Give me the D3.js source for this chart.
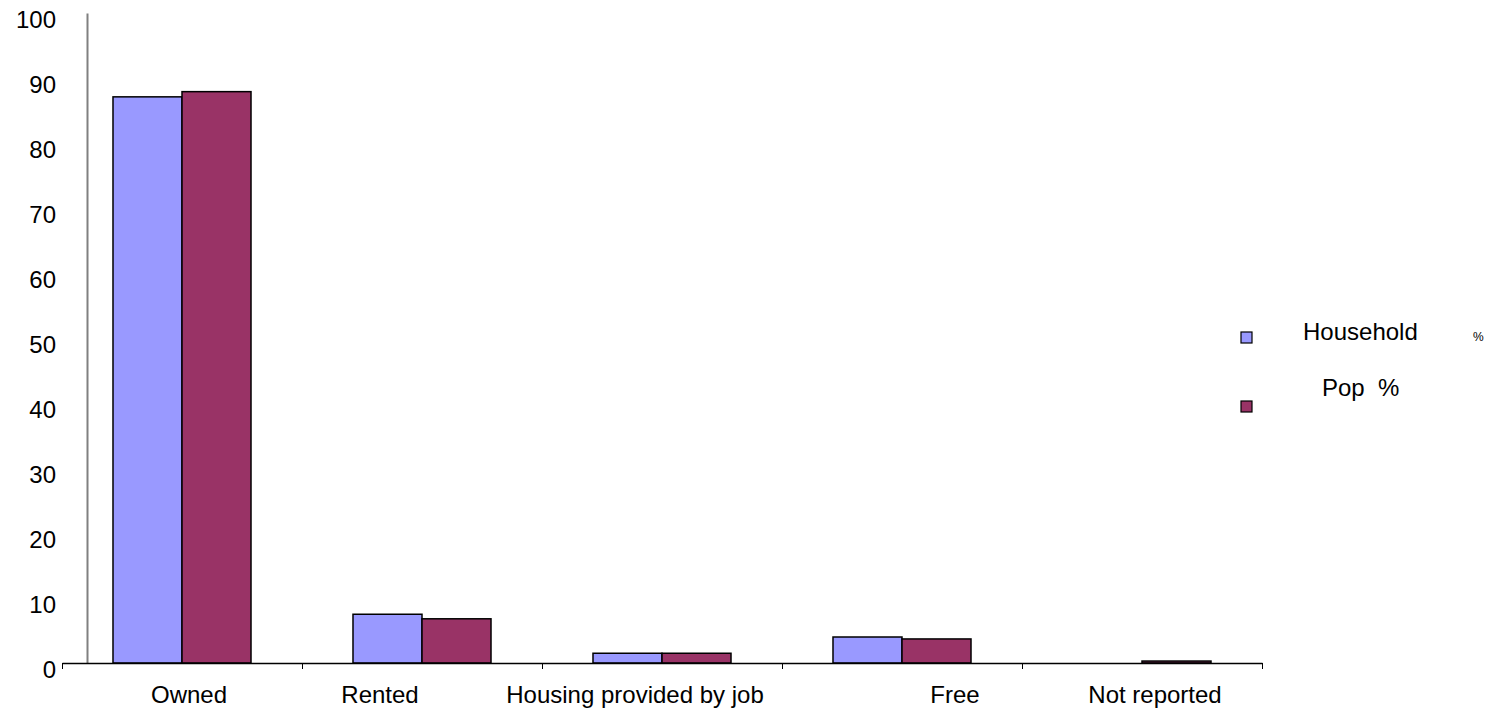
<!DOCTYPE html>
<html>
<head>
  <meta charset="utf-8">
  <title>Housing tenure</title>
  <style>
    body { margin: 0; background: #fff; }
    text {
      font-family: "Liberation Sans", Arial, sans-serif;
      fill: #000;
    }
  </style>
</head>
<body>
  <script src="https://cdn.jsdelivr.net/npm/d3@7/dist/d3.min.js"></script>
  <script>
  // chart values
  const categories = ["Owned", "Rented", "Housing provided by job", "Free", "Not reported"];
  const household = [87.1, 7.5, 1.5, 4.0, 0];
  const pop = [87.9, 6.8, 1.5, 3.7, 0.3];
  const seriesNames = ["Household", "Pop"];
  const yTicks = [0, 10, 20, 30, 40, 50, 60, 70, 80, 90, 100];

  // label nudges, the original places category text off-centre
  const labelShift = [7, -42, -27, 53, 13];

  const colors = { Household: "#9999ff", Pop: "#993366" };

  const rows = categories.map((c, i) => ({ cat: c, Household: household[i], Pop: pop[i] }));

  const W = 1490, H = 711;
  const svg = d3.select("body").append("svg")
    .attr("width", W)
    .attr("height", H);

  const x0 = d3.scaleBand()
    .domain(categories)
    .range([62, 1262])
    .paddingInner(0)
    .paddingOuter(0);

  const x1 = d3.scaleBand()
    .domain(seriesNames)
    .range([0, x0.bandwidth()])
    .paddingInner(0)
    .paddingOuter(0.739);

  const y = d3.scaleLinear()
    .domain([0, 100])
    .range([663, 13]);

  // y axis (gray line, no tick marks)
  const yAxis = svg.append("g")
    .attr("transform", "translate(87,0)")
    .call(d3.axisLeft(y).tickValues(yTicks).tickSize(0).tickPadding(31));
  yAxis.select(".domain").attr("stroke", "#808080").attr("stroke-width", 2);
  yAxis.selectAll("text")
    .attr("dy", "0.6em")
    .style("font-size", "24px")
    .style("font-family", "'Liberation Sans', Arial, sans-serif");

  // bars
  const groups = svg.append("g")
    .selectAll("g")
    .data(rows)
    .enter()
    .append("g")
    .attr("transform", d => `translate(${x0(d.cat)},0)`);

  groups.selectAll("rect")
    .data(d => seriesNames.map(k => ({ key: k, value: d[k] })))
    .enter()
    .append("rect")
    .attr("x", d => x1(d.key))
    .attr("y", d => y(d.value))
    .attr("width", x1.bandwidth())
    .attr("height", d => y(0) - y(d.value))
    .attr("fill", d => colors[d.key])
    .attr("stroke", d => d.value > 0 ? "#000" : "none")
    .attr("stroke-width", 1.5);

  // x axis with ticks at category boundaries
  const xEdges = d3.scaleLinear().domain([0, categories.length]).range([62, 1262]);
  const xAxis = svg.append("g")
    .attr("transform", "translate(0,663)")
    .call(d3.axisBottom(xEdges)
      .tickValues(d3.range(categories.length + 1))
      .tickFormat("")
      .tickSize(6)
      .tickSizeOuter(0));
  xAxis.select(".domain").attr("stroke", "#000").attr("stroke-width", 1.5);
  xAxis.selectAll(".tick line").attr("stroke", "#000");

  svg.append("g")
    .selectAll("text")
    .data(categories)
    .enter()
    .append("text")
    .attr("x", (d, i) => x0(d) + x0.bandwidth() / 2 + labelShift[i])
    .attr("y", 703)
    .attr("text-anchor", "middle")
    .style("font-size", "24px")
    .text(d => d);

  // legend
  const legend = svg.append("g");
  legend.append("rect")
    .attr("x", 1241).attr("y", 332).attr("width", 11).attr("height", 11)
    .attr("fill", colors.Household).attr("stroke", "#000").attr("stroke-width", 1.2);
  legend.append("rect")
    .attr("x", 1241).attr("y", 401).attr("width", 11).attr("height", 11)
    .attr("fill", colors.Pop).attr("stroke", "#000").attr("stroke-width", 1.2);
  legend.append("text")
    .attr("x", 1303).attr("y", 340)
    .style("font-size", "24px")
    .text("Household");
  legend.append("text")
    .attr("x", 1473).attr("y", 341)
    .style("font-size", "12px")
    .text("%");
  legend.append("text")
    .attr("x", 1322).attr("y", 396)
    .style("font-size", "24px")
    .attr("xml:space", "preserve")
    .style("white-space", "pre")
    .text("Pop  %");
  </script>
</body>
</html>
